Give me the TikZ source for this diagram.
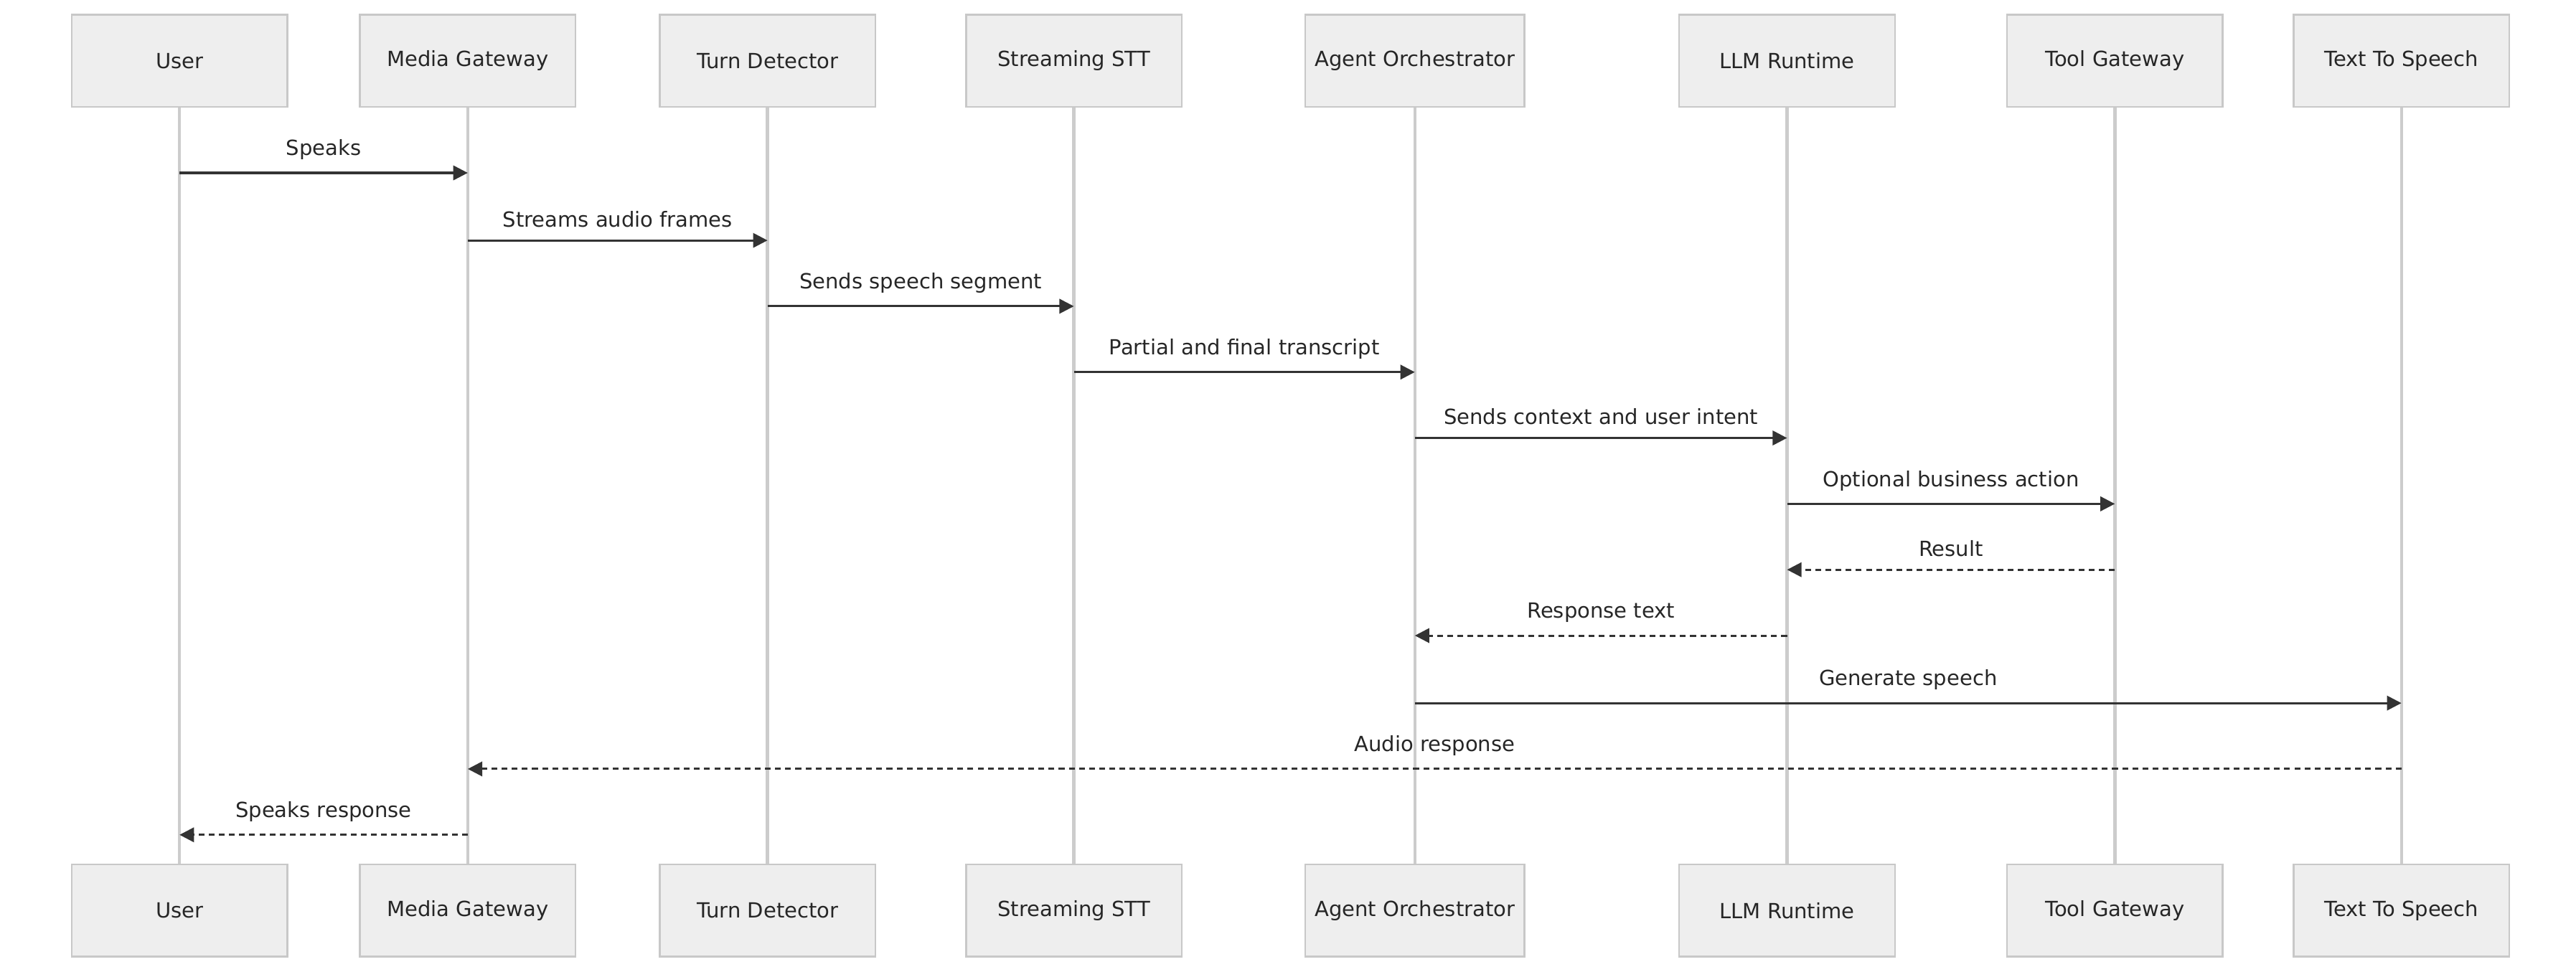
\documentclass[tikz,border=0pt]{standalone}
\usepackage{fontspec}
\setmainfont{DejaVu Sans}
\usetikzlibrary{arrows.meta,positioning,calc}
\definecolor{boxfill}{HTML}{EEEEEE}
\definecolor{boxline}{HTML}{C8C8C8}
\definecolor{lifeline}{HTML}{CCCCCC}
\definecolor{msgline}{HTML}{333333}
\tikzset{
  actor/.style={draw=boxline,fill=boxfill,line width=0.6pt,minimum width=2.62cm,minimum height=1.12cm,font=\fontsize{7.2}{9}\selectfont,text=black!85},
  msg/.style={draw=msgline,line width=0.75pt,-{Triangle[length=5pt,width=5pt]}},
  reply/.style={msg,dash pattern=on 2pt off 1.5pt},
  lbl/.style={above=1pt,font=\fontsize{7.2}{9}\selectfont,text=black!85}
}
\begin{document}
\begin{tikzpicture}[x=0.02cm,y=-0.02cm]
  \useasboundingbox (0,0) rectangle (1564,590);
  % Participants, top and bottom
  \foreach \n/\x/\t in {usr/109/User, mgw/284/Media Gateway, td/466/Turn Detector,
      stt/652/Streaming STT, orc/859/Agent Orchestrator, llm/1085/LLM Runtime,
      tg/1284/Tool Gateway, tts/1458/Text To Speech} {
    \draw[lifeline,line width=1.1pt] (\x,37) -- (\x,553);
    \node[actor] (\n-top) at (\x,37) {\t};
    \node[actor] (\n-bot) at (\x,553) {\t};
  }
  % Messages
  \foreach \a/\b/\y/\s/\t in {usr/mgw/105/msg/Speaks, mgw/td/146/msg/Streams audio frames,
      td/stt/186/msg/Sends speech segment, stt/orc/226/msg/Partial and final transcript,
      orc/llm/266/msg/Sends context and user intent, llm/tg/306/msg/Optional business action,
      tg/llm/346/reply/Result, llm/orc/386/reply/Response text,
      orc/tts/427/msg/Generate speech, tts/mgw/467/reply/Audio response,
      mgw/usr/507/reply/Speaks response} {
    \coordinate (s) at (\a-top.center |- 0,\y);
    \coordinate (e) at (\b-top.center |- 0,\y);
    \draw[\s] (s) -- (e);
    \node[lbl] at ($(s)!0.5!(e)$) {\t};
  }
\end{tikzpicture}
\end{document}
